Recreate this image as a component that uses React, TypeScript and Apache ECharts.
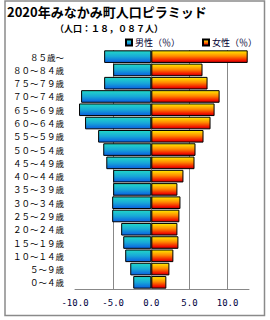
import React, { useEffect, useRef } from "react";
import * as echarts from "echarts";

const categories = [
  "０～４歳", "５～９歳", "１０～１４歳", "１５～１９歳", "２０～２４歳", "２５～２９歳",
  "３０～３４歳", "３５～３９歳", "４０～４４歳", "４５～４９歳", "５０～５４歳", "５５～５９歳",
  "６０～６４歳", "６５～６９歳", "７０～７４歳", "７５～７９歳", "８０～８４歳", "８５歳～",
];
const maleValues = [2.37, 2.76, 3.42, 3.68, 3.95, 5.13, 5.13, 5.0, 5.0, 5.9, 6.3, 6.97, 8.68, 9.47, 9.2, 6.18, 5.0, 6.18];
const femaleValues = [1.97, 2.37, 2.89, 3.55, 3.42, 3.68, 3.82, 3.42, 4.21, 5.66, 5.79, 6.84, 7.76, 8.29, 8.95, 7.37, 6.71, 12.63];
const seriesNames = ["男性（％）", "女性（％）"];
const titleText = "2020年みなかみ町人口ピラミッド";
const subtitleText = "（人口：１８，０８７人）";

const JP = "'Noto Sans CJK JP', sans-serif";

export default function App() {
  const ref = useRef<HTMLDivElement>(null);
  useEffect(() => {
    if (!ref.current) return;
    const chart = echarts.init(ref.current, null, { renderer: "svg" });
    const maleGrad = new echarts.graphic.LinearGradient(0, 0, 0, 1, [
      { offset: 0, color: "#22d8c8" },
      { offset: 0.5, color: "#18a8d8" },
      { offset: 1, color: "#0a5ee0" },
    ]);
    const femaleGrad = new echarts.graphic.LinearGradient(0, 0, 0, 1, [
      { offset: 0, color: "#ffec00" },
      { offset: 0.45, color: "#ff8a00" },
      { offset: 0.85, color: "#f01000" },
      { offset: 1, color: "#b00000" },
    ]);
    chart.setOption({
      animation: false,
      backgroundColor: "#ffffff",
      graphic: [
        {
          type: "rect",
          shape: { x: 5, y: 1, width: 259.5, height: 314.5 },
          style: { fill: "none", stroke: "#8a8a8a", lineWidth: 1.5 },
          z: 0,
        },
        {
          type: "text",
          x: 7,
          y: 11.5,
          style: {
            text: titleText,
            font: `bold 13px ${JP}`,
            fill: "#000",
            lineHeight: 13,
            verticalAlign: "middle",
          },
        },
        {
          type: "text",
          x: 55,
          y: 28,
          style: {
            text: subtitleText,
            font: `bold 9px ${JP}`,
            fill: "#000",
            lineHeight: 9,
            verticalAlign: "middle",
          },
        },
      ],
      legend: {
        data: seriesNames,
        left: 120,
        top: 33,
        icon: "rect",
        itemWidth: 6,
        itemHeight: 6,
        itemGap: 22,
        textStyle: { fontFamily: JP, fontSize: 9, color: "#000033", padding: [0, 0, 0, -2] },
      },
      grid: { left: 75, right: 21, top: 50, bottom: 31 },
      xAxis: {
        type: "value",
        min: -10,
        max: 12.8,
        interval: 5,
        axisLine: { show: true, lineStyle: { color: "#888", width: 1 } },
        axisTick: { show: false },
        splitLine: { show: true, showMinLine: false, showMaxLine: false, lineStyle: { color: "#888", width: 1 } },
        axisLabel: {
          margin: 9,
          fontFamily: "'DejaVu Sans Mono', monospace",
          fontSize: 9,
          color: "#000040",
          showMaxLabel: false,
          formatter: (v: number) => v.toFixed(1),
        },
      },
      yAxis: {
        type: "category",
        data: categories,
        axisLine: { show: true, lineStyle: { color: "#888", width: 1 } },
        axisTick: { show: false },
        axisLabel: { margin: 11, fontFamily: JP, fontSize: 8.5, color: "#000" },
      },
      series: [
        {
          name: seriesNames[0],
          type: "bar",
          data: maleValues.map((v) => -v),
          barGap: "-100%",
          barCategoryGap: "5%",
          itemStyle: { color: maleGrad, borderColor: "#000", borderWidth: 1 },
        },
        {
          name: seriesNames[1],
          type: "bar",
          data: femaleValues,
          barGap: "-100%",
          barCategoryGap: "5%",
          itemStyle: { color: femaleGrad, borderColor: "#000", borderWidth: 1 },
        },
      ],
    });
    return () => chart.dispose();
  }, []);
  return (
    <div
      ref={ref}
      style={{ position: "fixed", left: 0, top: 0, width: 270, height: 320, background: "#fff" }}
    />
  );
}
